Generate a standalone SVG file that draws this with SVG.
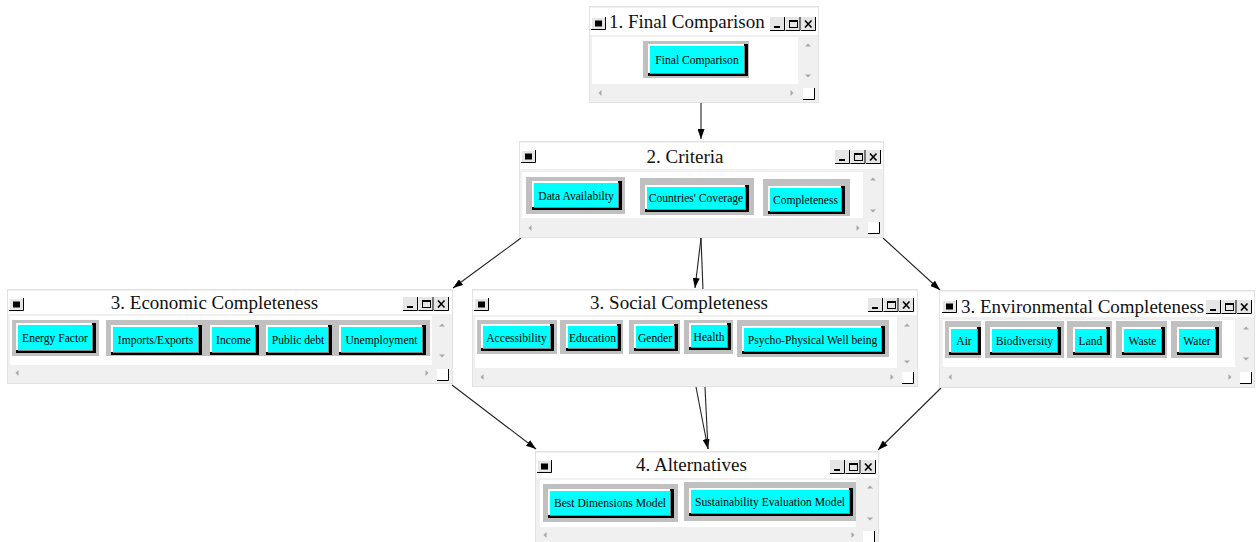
<svg xmlns="http://www.w3.org/2000/svg" xmlns:xlink="http://www.w3.org/1999/xlink" width="1258" height="542" viewBox="0 0 1258 542">
<style>
.win{fill:#f0f0f0;stroke:#e2e2e2;stroke-width:1}
.wh{fill:#fff}
.ttl{font-family:"Liberation Serif","Times New Roman",serif;font-size:19px;fill:#111}
.mid{text-anchor:middle}
.bt{font-family:"Liberation Serif","Times New Roman",serif;font-size:11.6px;fill:#000;text-anchor:middle}
.fr{fill:#c0c0c0}
.sh{fill:#000}
.hl{fill:#fff}
.dk{fill:#808080}
.cy{fill:#00ffff}
.sa{fill:#a8a8a8}
.edge{stroke:#222;stroke-width:1.1;fill:none}
</style>
<defs>
<marker id="ah" viewBox="0 0 10 7" refX="10" refY="3.5" markerWidth="10" markerHeight="7" markerUnits="userSpaceOnUse" orient="auto">
<path d="M0,0 L10,3.5 L0,7 z" fill="#000"/>
</marker>
<g id="ico">
<rect x="0" y="0" width="15" height="13" fill="#e6e6e6"/>
<path d="M0.5,12.5 V0.5 H14.5" stroke="#fff" fill="none"/>
<path d="M0,12.5 H14.5 V0" stroke="#000" fill="none"/>
<rect x="4" y="3.5" width="7" height="6" fill="#000"/>
</g>
<g id="btns">
<rect x="0" y="0" width="15" height="14" fill="#e6e6e6"/>
<path d="M0,13.5 H14.5 V0" stroke="#000" fill="none"/>
<rect x="4" y="9" width="6" height="2" fill="#000"/>
<rect x="15.5" y="0" width="15" height="14" fill="#e6e6e6"/>
<path d="M15.5,13.5 H30 V0" stroke="#000" fill="none"/>
<rect x="19.5" y="3.5" width="8" height="7" stroke="#000" fill="none"/>
<rect x="19.5" y="3" width="8" height="2" fill="#000"/>
<rect x="31" y="0" width="15" height="14" fill="#e6e6e6"/>
<path d="M31,13.5 H45.5 V0" stroke="#000" fill="none"/>
<path d="M35,3.5 L41.5,10.5 M41.5,3.5 L35,10.5" stroke="#000" stroke-width="1.6" fill="none"/>
</g>
<g id="cor">
<rect x="0" y="0" width="12" height="12" fill="#fff"/>
<path d="M0,11.5 H11.5 V0" stroke="#000" fill="none"/>
</g>
<path id="au" d="M-3,1.5 L3,1.5 L0,-1.5 z"/>
<path id="ad" d="M-3,-1.5 L3,-1.5 L0,1.5 z"/>
<path id="al" d="M1.5,-3 L1.5,3 L-1.5,0 z"/>
<path id="ar" d="M-1.5,-3 L-1.5,3 L1.5,0 z"/>
</defs>

<g id="connectors">
<line class="edge" x1="701" y1="103" x2="701" y2="139" marker-end="url(#ah)"/>
<line class="edge" x1="521" y1="238" x2="453" y2="288" marker-end="url(#ah)"/>
<line class="edge" x1="701" y1="238" x2="695" y2="288" marker-end="url(#ah)"/>
<line class="edge" x1="701" y1="238" x2="703" y2="290"/>
<line class="edge" x1="883" y1="238" x2="940" y2="290" marker-end="url(#ah)"/>
<line class="edge" x1="452" y1="385" x2="536" y2="449" marker-end="url(#ah)"/>
<line class="edge" x1="696" y1="387" x2="708" y2="449" marker-end="url(#ah)"/>
<line class="edge" x1="705" y1="387" x2="708" y2="449"/>
<line class="edge" x1="941" y1="388" x2="878" y2="450" marker-end="url(#ah)"/>
</g>

<g id="node-final-comparison">
<rect class="win" x="589.5" y="6.5" width="229" height="96"/>
<rect class="wh" x="590" y="8" width="228" height="27"/>
<rect class="wh" x="592" y="37" width="206" height="47"/>
<use href="#ico" x="591" y="17"/>
<text class="ttl" x="609" y="28">1. Final Comparison</text>
<use href="#btns" x="770" y="17"/>
<use href="#au" class="sa" x="808" y="45"/>
<use href="#ad" class="sa" x="808" y="76"/>
<use href="#al" class="sa" x="600" y="93"/>
<use href="#ar" class="sa" x="792" y="93"/>
<use href="#cor" x="803" y="88"/>
<g id="btn-final-comparison">
<rect class="fr" x="643" y="41" width="106" height="37"/>
<rect class="sh" x="648" y="44" width="100" height="32"/>
<rect class="hl" x="648" y="44" width="96" height="29"/>
<rect class="dk" x="650" y="46" width="95" height="28"/>
<rect class="cy" x="650" y="46" width="94" height="27"/>
<text class="bt" x="697" y="63.5">Final Comparison</text>
</g>
</g>

<g id="node-criteria">
<rect class="win" x="519.5" y="141.5" width="364" height="96"/>
<rect class="wh" x="520" y="143" width="363" height="26"/>
<rect class="wh" x="522" y="172" width="341" height="46"/>
<use href="#ico" x="521" y="150"/>
<text class="ttl mid" x="685" y="163">2. Criteria</text>
<use href="#btns" x="835" y="150"/>
<use href="#au" class="sa" x="873" y="179"/>
<use href="#ad" class="sa" x="873" y="211"/>
<use href="#al" class="sa" x="530" y="228"/>
<use href="#ar" class="sa" x="858" y="228"/>
<use href="#cor" x="868" y="222"/>
<g id="btn-data">
<rect class="fr" x="526" y="177" width="99" height="37"/>
<rect class="sh" x="532" y="181" width="90" height="29"/>
<rect class="hl" x="532" y="181" width="86" height="26"/>
<rect class="dk" x="534" y="183" width="85" height="25"/>
<rect class="cy" x="534" y="183" width="84" height="24"/>
<text class="bt" x="576" y="199.5">Data Availabilty</text>
</g>
<g id="btn-countries">
<rect class="fr" x="640" y="178" width="114" height="37"/>
<rect class="sh" x="645" y="185" width="104" height="27"/>
<rect class="hl" x="645" y="185" width="100" height="24"/>
<rect class="dk" x="647" y="187" width="99" height="23"/>
<rect class="cy" x="647" y="187" width="98" height="22"/>
<text class="bt" x="696" y="202">Countries' Coverage</text>
</g>
<g id="btn-completeness">
<rect class="fr" x="763" y="179" width="87" height="37"/>
<rect class="sh" x="768" y="186" width="77" height="28"/>
<rect class="hl" x="768" y="186" width="73" height="25"/>
<rect class="dk" x="770" y="188" width="72" height="24"/>
<rect class="cy" x="770" y="188" width="71" height="23"/>
<text class="bt" x="805.5" y="203.5">Completeness</text>
</g>
</g>

<g id="node-economic">
<rect class="win" x="7.5" y="289.5" width="445" height="94"/>
<rect class="wh" x="8" y="291" width="444" height="23"/>
<rect class="wh" x="10" y="316" width="422" height="49"/>
<use href="#ico" x="9" y="298"/>
<text class="ttl mid" x="214.5" y="309">3. Economic Completeness</text>
<use href="#btns" x="403" y="297"/>
<use href="#au" class="sa" x="442" y="325"/>
<use href="#ad" class="sa" x="442" y="356"/>
<use href="#al" class="sa" x="17" y="373"/>
<use href="#ar" class="sa" x="427" y="373"/>
<use href="#cor" x="437" y="369"/>
<g id="btn-energy">
<rect class="fr" x="12" y="320" width="87" height="36"/>
<rect class="sh" x="16" y="323" width="80" height="30"/>
<rect class="hl" x="16" y="323" width="76" height="27"/>
<rect class="dk" x="18" y="325" width="75" height="26"/>
<rect class="cy" x="18" y="325" width="74" height="25"/>
<text class="bt" x="55" y="342">Energy Factor</text>
</g>
<g id="btn-imports">
<rect class="fr" x="106" y="320" width="99" height="36"/>
<rect class="sh" x="111" y="325" width="91" height="30"/>
<rect class="hl" x="111" y="325" width="87" height="27"/>
<rect class="dk" x="113" y="327" width="86" height="26"/>
<rect class="cy" x="113" y="327" width="85" height="25"/>
<text class="bt" x="155.5" y="343.5">Imports/Exports</text>
</g>
<g id="btn-income">
<rect class="fr" x="205" y="320" width="57" height="36"/>
<rect class="sh" x="210" y="325" width="49" height="30"/>
<rect class="hl" x="210" y="325" width="45" height="27"/>
<rect class="dk" x="212" y="327" width="44" height="26"/>
<rect class="cy" x="212" y="327" width="43" height="25"/>
<text class="bt" x="233.5" y="343.5">Income</text>
</g>
<g id="btn-debt">
<rect class="fr" x="262" y="320" width="73" height="36"/>
<rect class="sh" x="266" y="325" width="66" height="30"/>
<rect class="hl" x="266" y="325" width="62" height="27"/>
<rect class="dk" x="268" y="327" width="61" height="26"/>
<rect class="cy" x="268" y="327" width="60" height="25"/>
<text class="bt" x="298" y="343.5">Public debt</text>
</g>
<g id="btn-unemployment">
<rect class="fr" x="335" y="320" width="95" height="36"/>
<rect class="sh" x="339" y="325" width="87" height="30"/>
<rect class="hl" x="339" y="325" width="83" height="27"/>
<rect class="dk" x="341" y="327" width="82" height="26"/>
<rect class="cy" x="341" y="327" width="81" height="25"/>
<text class="bt" x="381.5" y="343.5">Unemployment</text>
</g>
</g>

<g id="node-social">
<rect class="win" x="472.5" y="289.5" width="445" height="97"/>
<rect class="wh" x="473" y="291" width="444" height="24"/>
<rect class="wh" x="475" y="317" width="422" height="51"/>
<use href="#ico" x="474" y="298"/>
<text class="ttl mid" x="679" y="309">3. Social Completeness</text>
<use href="#btns" x="868" y="298"/>
<use href="#au" class="sa" x="907" y="325"/>
<use href="#ad" class="sa" x="907" y="362"/>
<use href="#al" class="sa" x="482" y="377"/>
<use href="#ar" class="sa" x="892" y="377"/>
<use href="#cor" x="902" y="372"/>
<g id="btn-accessibility">
<rect class="fr" x="477" y="320" width="80" height="34"/>
<rect class="sh" x="481" y="324" width="73" height="27"/>
<rect class="hl" x="481" y="324" width="69" height="24"/>
<rect class="dk" x="483" y="326" width="68" height="23"/>
<rect class="cy" x="483" y="326" width="67" height="22"/>
<text class="bt" x="516.5" y="342">Accessibility</text>
</g>
<g id="btn-education">
<rect class="fr" x="560" y="320" width="63" height="34"/>
<rect class="sh" x="566" y="324" width="55" height="27"/>
<rect class="hl" x="566" y="324" width="51" height="24"/>
<rect class="dk" x="568" y="326" width="50" height="23"/>
<rect class="cy" x="568" y="326" width="49" height="22"/>
<text class="bt" x="592.5" y="342">Education</text>
</g>
<g id="btn-gender">
<rect class="fr" x="629" y="320" width="51" height="34"/>
<rect class="sh" x="634" y="324" width="44" height="27"/>
<rect class="hl" x="634" y="324" width="40" height="24"/>
<rect class="dk" x="636" y="326" width="39" height="23"/>
<rect class="cy" x="636" y="326" width="38" height="22"/>
<text class="bt" x="655" y="342">Gender</text>
</g>
<g id="btn-health">
<rect class="fr" x="684" y="320" width="49" height="34"/>
<rect class="sh" x="689" y="323" width="42" height="27"/>
<rect class="hl" x="689" y="323" width="38" height="24"/>
<rect class="dk" x="691" y="325" width="37" height="23"/>
<rect class="cy" x="691" y="325" width="36" height="22"/>
<text class="bt" x="709" y="341">Health</text>
</g>
<g id="btn-psycho">
<rect class="fr" x="737" y="320" width="152" height="37"/>
<rect class="sh" x="742" y="326" width="143" height="28"/>
<rect class="hl" x="742" y="326" width="139" height="25"/>
<rect class="dk" x="744" y="328" width="138" height="24"/>
<rect class="cy" x="744" y="328" width="137" height="23"/>
<text class="bt" x="812.5" y="344">Psycho-Physical Well being</text>
</g>
</g>

<g id="node-environmental">
<rect class="win" x="939.5" y="290.5" width="315" height="97"/>
<rect class="wh" x="940" y="292" width="314" height="25"/>
<rect class="wh" x="943" y="320" width="292" height="47"/>
<use href="#ico" x="942" y="300"/>
<text class="ttl" x="961" y="312.5">3. Environmental Completeness</text>
<use href="#btns" x="1206" y="300"/>
<use href="#au" class="sa" x="1246" y="328"/>
<use href="#ad" class="sa" x="1246" y="359"/>
<use href="#al" class="sa" x="950" y="377"/>
<use href="#ar" class="sa" x="1230" y="377"/>
<use href="#cor" x="1240" y="372"/>
<g id="btn-air">
<rect class="fr" x="945" y="321" width="36" height="37"/>
<rect class="sh" x="949" y="327" width="32" height="28"/>
<rect class="hl" x="949" y="327" width="28" height="25"/>
<rect class="dk" x="951" y="329" width="27" height="24"/>
<rect class="cy" x="951" y="329" width="26" height="23"/>
<text class="bt" x="964" y="345">Air</text>
</g>
<g id="btn-biodiversity">
<rect class="fr" x="985" y="321" width="79" height="37"/>
<rect class="sh" x="990" y="327" width="71" height="28"/>
<rect class="hl" x="990" y="327" width="67" height="25"/>
<rect class="dk" x="992" y="329" width="66" height="24"/>
<rect class="cy" x="992" y="329" width="65" height="23"/>
<text class="bt" x="1024.5" y="345">Biodiversity</text>
</g>
<g id="btn-land">
<rect class="fr" x="1067" y="321" width="45" height="37"/>
<rect class="sh" x="1073" y="327" width="37" height="28"/>
<rect class="hl" x="1073" y="327" width="33" height="25"/>
<rect class="dk" x="1075" y="329" width="32" height="24"/>
<rect class="cy" x="1075" y="329" width="31" height="23"/>
<text class="bt" x="1090.5" y="345">Land</text>
</g>
<g id="btn-waste">
<rect class="fr" x="1116" y="321" width="51" height="37"/>
<rect class="sh" x="1122" y="327" width="43" height="28"/>
<rect class="hl" x="1122" y="327" width="39" height="25"/>
<rect class="dk" x="1124" y="329" width="38" height="24"/>
<rect class="cy" x="1124" y="329" width="37" height="23"/>
<text class="bt" x="1142.5" y="345">Waste</text>
</g>
<g id="btn-water">
<rect class="fr" x="1171" y="321" width="51" height="37"/>
<rect class="sh" x="1177" y="327" width="42" height="28"/>
<rect class="hl" x="1177" y="327" width="38" height="25"/>
<rect class="dk" x="1179" y="329" width="37" height="24"/>
<rect class="cy" x="1179" y="329" width="36" height="23"/>
<text class="bt" x="1197" y="345">Water</text>
</g>
</g>

<g id="node-alternatives">
<rect class="win" x="535.5" y="451.5" width="343" height="95"/>
<rect class="wh" x="536" y="453" width="342" height="25"/>
<rect class="wh" x="540" y="480" width="316" height="47"/>
<use href="#ico" x="537" y="460"/>
<text class="ttl mid" x="691.5" y="471">4. Alternatives</text>
<use href="#btns" x="830" y="460"/>
<use href="#au" class="sa" x="870" y="487"/>
<use href="#ad" class="sa" x="870" y="519"/>
<use href="#al" class="sa" x="545" y="535"/>
<use href="#ar" class="sa" x="853" y="535"/>
<use href="#cor" x="863" y="531"/>
<g id="btn-best">
<rect class="fr" x="543" y="484" width="135" height="38"/>
<rect class="sh" x="548" y="489" width="126" height="29"/>
<rect class="hl" x="548" y="489" width="122" height="26"/>
<rect class="dk" x="550" y="491" width="121" height="25"/>
<rect class="cy" x="550" y="491" width="120" height="24"/>
<text class="bt" x="610" y="507">Best Dimensions Model</text>
</g>
<g id="btn-sustainability">
<rect class="fr" x="684" y="482" width="172" height="39"/>
<rect class="sh" x="689" y="488" width="164" height="28"/>
<rect class="hl" x="689" y="488" width="160" height="25"/>
<rect class="dk" x="691" y="490" width="159" height="24"/>
<rect class="cy" x="691" y="490" width="158" height="23"/>
<text class="bt" x="770" y="505.5">Sustainability Evaluation Model</text>
</g>
</g>
</svg>
